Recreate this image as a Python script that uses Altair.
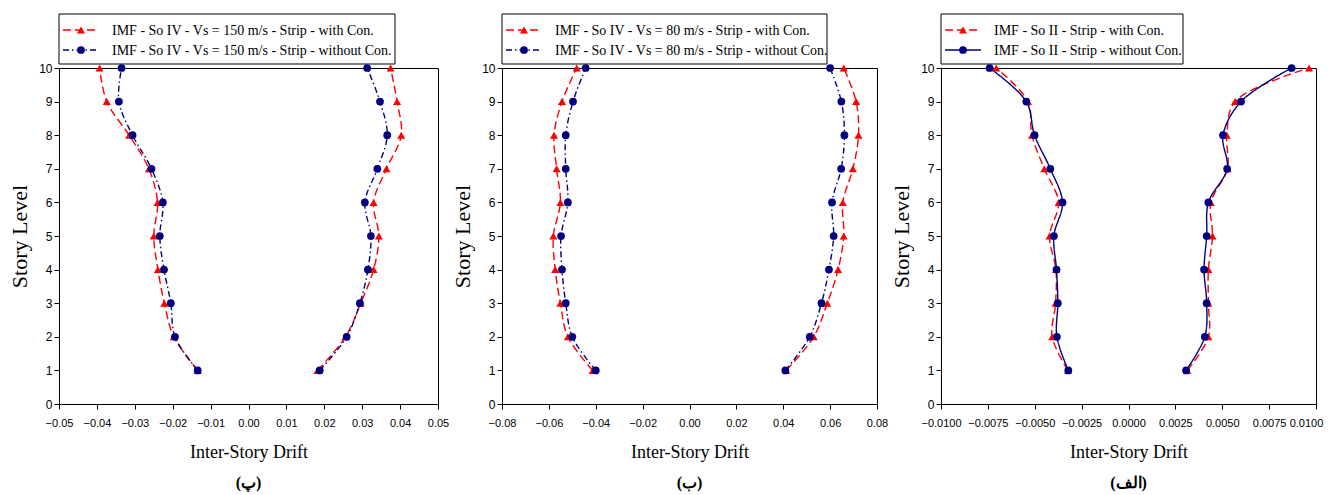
import altair as alt
import pandas as pd

levels = [1, 2, 3, 4, 5, 6, 7, 8, 9, 10]

# Panel (پ)
p1_labels = ["IMF - So IV - Vs = 150 m/s - Strip - with Con.",
             "IMF - So IV - Vs = 150 m/s - Strip - without Con."]
p1_with_left = [-0.0134, -0.0197, -0.0222, -0.0239, -0.0250, -0.0240, -0.0263, -0.0315, -0.0374, -0.0393]
p1_with_right = [0.0182, 0.0256, 0.0296, 0.0330, 0.0344, 0.0330, 0.0364, 0.0403, 0.0392, 0.0375]
p1_without_left = [-0.0134, -0.0194, -0.0205, -0.0223, -0.0234, -0.0226, -0.0256, -0.0306, -0.0342, -0.0335]
p1_without_right = [0.0188, 0.0259, 0.0294, 0.0315, 0.0323, 0.0307, 0.0340, 0.0366, 0.0347, 0.0313]

# Panel (ب)
p2_labels = ["IMF - So IV - Vs = 80 m/s - Strip - with Con.",
             "IMF - So IV - Vs = 80 m/s - Strip - without Con."]
p2_with_left = [-0.0413, -0.0519, -0.0551, -0.0573, -0.0581, -0.0551, -0.0567, -0.0578, -0.0544, -0.0481]
p2_with_right = [0.0413, 0.0530, 0.0588, 0.0634, 0.0658, 0.0654, 0.0697, 0.0721, 0.0711, 0.0658]
p2_without_left = [-0.0400, -0.0500, -0.0528, -0.0544, -0.0548, -0.0519, -0.0528, -0.0528, -0.0497, -0.0443]
p2_without_right = [0.0409, 0.0513, 0.0563, 0.0595, 0.0615, 0.0608, 0.0647, 0.0661, 0.0648, 0.0600]

# Panel (الف)
p3_labels = ["IMF - So II - Strip - with Con.",
             "IMF - So II - Strip - without Con."]
p3_with_left = [-0.00323, -0.00407, -0.00389, -0.00387, -0.00421, -0.00373, -0.00449, -0.00515, -0.00536, -0.00705]
p3_with_right = [0.00314, 0.00426, 0.00426, 0.00426, 0.00448, 0.00439, 0.00528, 0.00524, 0.00568, 0.00963]
p3_without_left = [-0.00321, -0.00382, -0.00377, -0.00384, -0.00398, -0.00352, -0.00417, -0.00501, -0.00545, -0.00741]
p3_without_right = [0.00307, 0.00407, 0.00417, 0.00403, 0.00417, 0.00426, 0.00526, 0.00504, 0.00600, 0.00870]

RED = "#ff0000"
NAVY = "#000080"
SERIF = "Liberation Serif"
SANS = "Liberation Sans"
RED_DASH = [8, 4]
BLUE_DASHDOT = [6, 3, 1.5, 3]
SOLID = [1, 0]


def legend_layers(labels, box_w, blue_dash):
    """Framed legend drawn above the plot area (pixel offsets from the plot's top-left)."""
    box = alt.Chart(pd.DataFrame({"k": [0]})).mark_rect(
        fill="white", stroke="black", strokeWidth=1).encode(
        x=alt.value(0), x2=alt.value(box_w), y=alt.value(-54), y2=alt.value(-4))
    out = [box]
    styles = [(RED, RED_DASH, "triangle-up", 65, -38), (NAVY, blue_dash, "circle", 60, -18)]
    for lab, (col, dash, shp, sz, yy) in zip(labels, styles):
        d = pd.DataFrame({"label": [lab]})
        out.append(alt.Chart(d).mark_rule(color=col, strokeDash=dash, strokeWidth=1.4).encode(
            x=alt.value(4), x2=alt.value(40), y=alt.value(yy)))
        out.append(alt.Chart(d).mark_point(filled=True, opacity=1, color=col, shape=shp, size=sz).encode(
            x=alt.value(22), y=alt.value(yy)))
        out.append(alt.Chart(d).mark_text(align="left", baseline="middle", font=SERIF,
                                          fontSize=14, color="black").encode(
            x=alt.value(53), y=alt.value(yy + 1), text="label:N"))
    return out


def make_panel(labels, wl, wr, ol, orr, xmin, xmax, xstep, fmt, subtitle, width, box_w, solid_blue):
    rows = []
    for lab, left, right in [(labels[0], wl, wr), (labels[1], ol, orr)]:
        for lv, v in zip(levels, left):
            rows.append({"series": lab, "side": "L", "level": lv, "drift": v})
        for lv, v in zip(levels, right):
            rows.append({"series": lab, "side": "R", "level": lv, "drift": v})
    df = pd.DataFrame(rows)

    nt = int(round((xmax - xmin) / xstep))
    xticks = [round(xmin + i * xstep, 6) for i in range(nt + 1)]

    axis_kw = dict(values=xticks, format=fmt, title="Inter-Story Drift",
                   labelOverlap=False, labelFlush=False)
    if solid_blue:
        # nudge the last label of the right-most panel so it stays on the page
        axis_kw["labelOffset"] = {"condition": {"test": f"datum.value >= {xmax * 0.999}", "value": -10},
                                  "value": 0}
    x = alt.X("drift:Q", scale=alt.Scale(domain=[xmin, xmax], nice=False, zero=False),
              axis=alt.Axis(**axis_kw))
    y = alt.Y("level:Q", scale=alt.Scale(domain=[0, 10], nice=False),
              axis=alt.Axis(values=list(range(11)), title="Story Level",
                            labelOverlap=False, labelFlush=False))

    color_scale = alt.Scale(domain=labels, range=[RED, NAVY])
    blue_dash = SOLID if solid_blue else BLUE_DASHDOT

    base = alt.Chart(df)
    lines = base.mark_line(strokeWidth=1.4, interpolate="catmull-rom").encode(
        x=x, y=y,
        color=alt.Color("series:N", scale=color_scale, legend=None),
        strokeDash=alt.StrokeDash("series:N", scale=alt.Scale(domain=labels, range=[RED_DASH, blue_dash]),
                                  legend=None),
        detail="side:N",
        order=alt.Order("level:Q"),
    )
    pts_with = base.transform_filter(alt.datum.series == labels[0]).mark_point(
        filled=True, size=65, opacity=1, shape="triangle-up").encode(
        x=x, y=y, color=alt.Color("series:N", scale=color_scale, legend=None))
    pts_without = base.transform_filter(alt.datum.series == labels[1]).mark_point(
        filled=True, size=60, opacity=1, shape="circle").encode(
        x=x, y=y, color=alt.Color("series:N", scale=color_scale, legend=None))

    return alt.layer(lines, pts_with, pts_without, *legend_layers(labels, box_w, blue_dash)).properties(
        width=width, height=336,
        title=alt.TitleParams(subtitle, orient="bottom", font=SERIF, fontSize=16,
                              fontWeight="bold", color="black", offset=14),
    )


c1 = make_panel(p1_labels, p1_with_left, p1_with_right, p1_without_left, p1_without_right,
                -0.05, 0.05, 0.01, ".2f", "(پ)", 379, 336, False)
c2 = make_panel(p2_labels, p2_with_left, p2_with_right, p2_without_left, p2_without_right,
                -0.08, 0.08, 0.02, ".2f", "(ب)", 375, 325, False)
c3 = make_panel(p3_labels, p3_with_left, p3_with_right, p3_without_left, p3_without_right,
                -0.01, 0.01, 0.0025, ".4f", "(الف)", 375, 242, True)

chart = alt.hconcat(c1, c2, c3, spacing=64, bounds="flush").resolve_scale(
    x="independent", y="independent", color="independent", strokeDash="independent"
).properties(
    padding={"left": 0, "top": 5, "right": 2, "bottom": 0}
).configure_view(
    stroke="black", strokeWidth=1
).configure_axis(
    grid=False, domainColor="black", tickColor="black", tickSize=5,
    labelColor="black", labelFont=SANS, labelFontSize=11,
    titleColor="black", titleFont=SERIF, titleFontWeight="normal",
).configure_axisX(
    labelPadding=8, titlePadding=15, titleFontSize=18
).configure_axisY(
    labelPadding=2, titlePadding=7, labelFontSize=12, titleFontSize=22
)

chart.save("out.html", embed_options={"renderer": "svg", "actions": False})
